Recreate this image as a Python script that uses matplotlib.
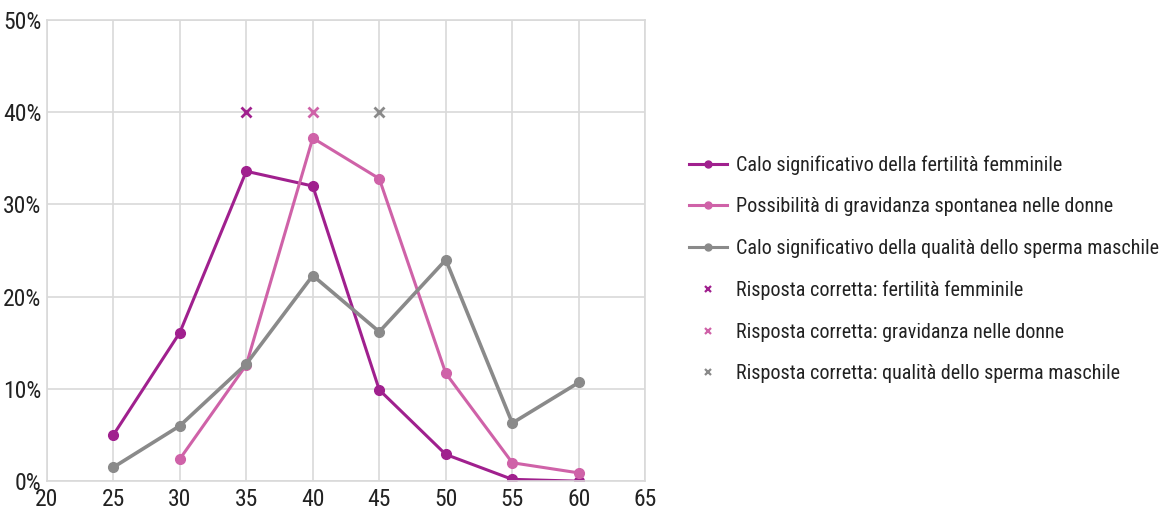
import matplotlib
matplotlib.use('Agg')
import matplotlib.pyplot as plt
import numpy as np

plt.rcParams['font.family'] = ['Roboto Condensed', 'Liberation Sans', 'DejaVu Sans']

# data
eta = [25, 30, 35, 40, 45, 50, 55, 60]
fert_femm = [5.0, 16.1, 33.6, 32.0, 9.9, 2.9, 0.2, 0.0]
eta_grav = [30, 35, 40, 45, 50, 55, 60]
gravidanza = [2.4, 12.6, 37.2, 32.8, 11.7, 2.0, 0.9]
sperma = [1.5, 6.0, 12.7, 22.3, 16.2, 24.0, 6.3, 10.7]

# correct answers
risp_eta = [35, 40, 45]
risp_val = [40, 40, 40]

labels = ['Calo significativo della fertilità femminile',
          'Possibilità di gravidanza spontanea nelle donne',
          'Calo significativo della qualità dello sperma maschile',
          'Risposta corretta: fertilità femminile',
          'Risposta corretta: gravidanza nelle donne',
          'Risposta corretta: qualità dello sperma maschile']

c_dark = '#A0208E'
c_pink = '#CF62A8'
c_gray = '#8A8A8A'

fig = plt.figure(figsize=(11.69, 5.13), dpi=100)
ax = fig.add_axes([0.040, 0.062, 0.512, 0.899])

l1, = ax.plot(eta, fert_femm, color=c_dark, lw=2.2, marker='o', ms=7)
l2, = ax.plot(eta_grav, gravidanza, color=c_pink, lw=2.2, marker='o', ms=7)
l3, = ax.plot(eta, sperma, color=c_gray, lw=2.6, marker='o', ms=7)
m1, = ax.plot(risp_eta[0], risp_val[0], ls='none', marker='x', color=c_dark, ms=6.5, mew=2)
m2, = ax.plot(risp_eta[1], risp_val[1], ls='none', marker='x', color=c_pink, ms=6.5, mew=2)
m3, = ax.plot(risp_eta[2], risp_val[2], ls='none', marker='x', color=c_gray, ms=6.5, mew=2)

ax.set_xlim(20, 65)
ax.set_ylim(0, 50)
ax.set_xticks(np.arange(20, 66, 5))
ax.set_yticks(np.arange(0, 51, 10))
ax.set_yticklabels([f'{v}%' for v in range(0, 51, 10)])
ax.grid(True, color='#D9D9D9', lw=1.2)
ax.set_axisbelow(True)
for s in ax.spines.values():
    s.set_color('#D9D9D9')
    s.set_linewidth(1.2)
ax.tick_params(length=0, labelsize=17, colors='#222222')
ax.tick_params(axis='x', pad=5)
ax.tick_params(axis='y', pad=4)

leg = fig.legend([l1, l2, l3, m1, m2, m3], labels, loc='upper left',
                 bbox_to_anchor=(0.574, 0.733), frameon=False, fontsize=14.5,
                 handlelength=1.9, labelspacing=1.12, handletextpad=0.45)
for t in leg.get_texts():
    t.set_color('#222222')
for i, h in enumerate(leg.legend_handles):
    if i < 3:
        h.set_markersize(5)
        h.set_linewidth(2.2)
    else:
        h.set_markersize(5)
        h.set_markeredgewidth(1.6)

fig.savefig('out.png', dpi=100)
